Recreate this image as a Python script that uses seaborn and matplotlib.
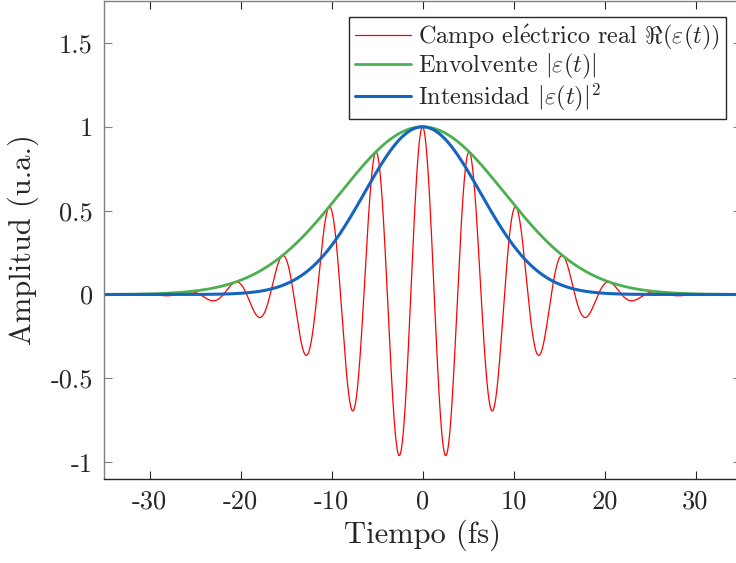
import matplotlib
matplotlib.use("Agg")
import matplotlib.pyplot as plt
import numpy as np
import pandas as pd
import seaborn as sns

# pulse values
fwhm_intensidad = 15.0      # fs, FWHM of |e(t)|^2
periodo_portadora = 5.15    # fs, red peaks at 0, +-5.15, +-10.3 ...
t_min, t_max = -35, 35
n_puntos = 2001

x_ticks = [-30, -20, -10, 0, 10, 20, 30]
x_ticklabels = ["-30", "-20", "-10", "0", "10", "20", "30"]
y_ticks = [-1, -0.5, 0, 0.5, 1, 1.5]
y_ticklabels = ["-1", "-0.5", "0", "0.5", "1", "1.5"]

etiquetas = [r"Campo el$\mathrm{\acute{e}}$ctrico real $\Re(\varepsilon(t))$",
             r"Envolvente $|\varepsilon(t)|$",
             r"Intensidad $|\varepsilon(t)|^2$"]
colores = ["#FF0000", "#4CAF50", "#1565C0"]
anchos = [0.9, 2.0, 2.2]

t = np.linspace(t_min, t_max, n_puntos)
envolvente = np.exp(-2 * np.log(2) * t**2 / fwhm_intensidad**2)
campo = envolvente * np.cos(2 * np.pi * t / periodo_portadora)
intensidad = envolvente**2

df = pd.DataFrame({"t": t, "campo": campo, "env": envolvente, "int": intensidad})

sns.set_style("ticks")
plt.rcParams["font.family"] = ["cmr10", "DejaVu Serif"]
plt.rcParams["mathtext.fontset"] = "cm"
plt.rcParams["axes.unicode_minus"] = False
plt.rcParams["axes.formatter.use_mathtext"] = True

fig = plt.figure(figsize=(7.36, 5.63), dpi=100)
ax = fig.add_axes([104 / 736, 84 / 563, 637 / 736, 478 / 563])

for col, lab, c, lw in zip(["campo", "env", "int"], etiquetas, colores, anchos):
    sns.lineplot(data=df, x="t", y=col, ax=ax, color=c, lw=lw, label=lab)

ax.set_xlim(t_min, t_max)
ax.set_ylim(-1.1, 1.75)
ax.set_xticks(x_ticks)
ax.set_xticklabels(x_ticklabels)
ax.set_yticks(y_ticks)
ax.set_yticklabels(y_ticklabels)
ax.tick_params(direction="in", length=6, labelsize=19, top=True, right=True,
               colors="#262626")
ax.tick_params(axis="y", color="#808080", pad=8)
ax.tick_params(axis="x", pad=8)
for s in ["left", "top", "right"]:
    ax.spines[s].set_color("#808080")
ax.spines["bottom"].set_color("#262626")
for s in ax.spines.values():
    s.set_linewidth(1.0)

ax.set_xlabel("Tiempo (fs)", fontsize=22, color="#262626", labelpad=4)
ax.set_ylabel("Amplitud (u.a.)", fontsize=22, color="#262626", labelpad=8)

leg = ax.legend(loc="upper right", bbox_to_anchor=((726 - 104) / 637, 1 - 16 / 478),
                fontsize=17.5, frameon=True, fancybox=False, framealpha=1,
                edgecolor="#262626", handlelength=2.3, handletextpad=0.3,
                borderpad=0.25, labelspacing=0.0, borderaxespad=0)
leg.get_frame().set_linewidth(1.0)

fig.savefig("out.png", dpi=100)
